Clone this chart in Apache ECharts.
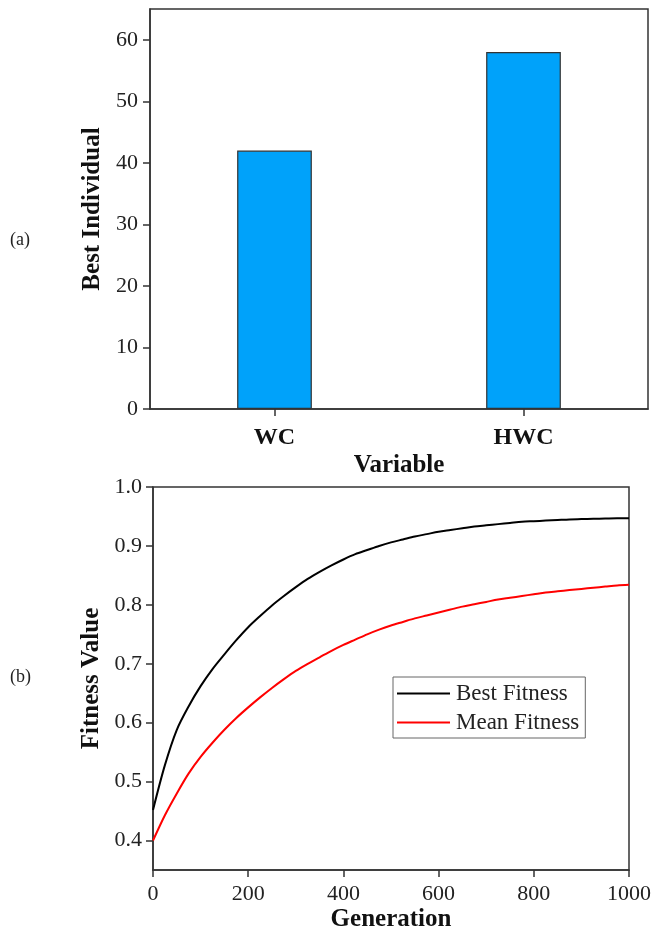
<!DOCTYPE html>
<html>
<head>
<meta charset="utf-8">
<script src="https://cdn.jsdelivr.net/npm/echarts@6/dist/echarts.min.js"></script>
<style>
  html, body { margin: 0; padding: 0; background: #fff; }
  #chart { width: 661px; height: 933px; }
</style>
</head>
<body>
<div id="chart"></div>
<script>
// bar panel (a)
const variables = ['WC', 'HWC']
const bestIndividual = [42, 58]

// line panel (b), values read every 25 generations
const generations = [0, 25, 50, 75, 100, 125, 150, 175, 200, 225, 250, 275, 300, 325, 350, 375, 400,
  425, 450, 475, 500, 525, 550, 575, 600, 625, 650, 675, 700, 725, 750, 775, 800, 825, 850, 875, 900,
  925, 950, 975, 1000]
const bestFitness = [0.452, 0.528, 0.588, 0.628, 0.662, 0.691, 0.716, 0.740, 0.762, 0.781, 0.799, 0.815, 0.830,
  0.844, 0.856, 0.867, 0.877, 0.886, 0.893, 0.900, 0.906, 0.911, 0.916, 0.920, 0.924, 0.927, 0.930, 0.933,
  0.935, 0.937, 0.939, 0.941, 0.942, 0.943, 0.944, 0.945, 0.9455, 0.946, 0.9465, 0.947, 0.947]
const meanFitness = [0.400, 0.443, 0.480, 0.514, 0.542, 0.566, 0.588, 0.608, 0.626, 0.643, 0.659, 0.674, 0.688,
  0.700, 0.711, 0.722, 0.732, 0.741, 0.750, 0.758, 0.765, 0.771, 0.777, 0.782, 0.787, 0.792, 0.797, 0.801,
  0.805, 0.809, 0.812, 0.815, 0.818, 0.821, 0.823, 0.825, 0.827, 0.829, 0.831, 0.833, 0.834]
const fitnessTicks = [0.4, 0.5, 0.6, 0.7, 0.8, 0.9, 1.0]

const font = 'Liberation Serif'
const axisColor = '#333'

const chart = echarts.init(document.getElementById('chart'))

const axisLine = { lineStyle: { color: axisColor, width: 1.5 } }
const tickStyle = { color: axisColor, width: 1.5 }
const tickLabel = { color: '#222', fontFamily: font, fontSize: 22 }
const nameStyle = { color: '#111', fontFamily: font, fontSize: 25, fontWeight: 'bold' }

chart.setOption({
  animation: false,
  backgroundColor: '#fff',
  grid: [
    { left: 150, top: 9, right: 13, height: 400, show: true, borderColor: axisColor, borderWidth: 1.5 },
    { left: 153, top: 487, right: 32, bottom: 62, show: true, borderColor: axisColor, borderWidth: 1.5 }
  ],
  legend: {
    data: ['Best Fitness', 'Mean Fitness'],
    orient: 'vertical',
    left: 393,
    top: 677,
    icon: 'rect',
    itemWidth: 53,
    itemHeight: 2,
    itemGap: 6,
    padding: [5, 6, 4, 4],
    borderColor: '#666',
    borderWidth: 1,
    textStyle: { fontFamily: font, fontSize: 23, color: '#222', padding: [0, 0, 0, 1] }
  },
  xAxis: [
    {
      gridIndex: 0,
      type: 'category',
      data: variables,
      name: 'Variable',
      nameLocation: 'middle',
      nameGap: 44,
      nameTextStyle: nameStyle,
      axisLine: axisLine,
      axisTick: { show: true, alignWithLabel: true, length: 7, lineStyle: tickStyle },
      axisLabel: { color: '#111', fontFamily: font, fontSize: 24, fontWeight: 'bold', margin: 17 },
      splitLine: { show: false }
    },
    {
      gridIndex: 1,
      type: 'value',
      min: 0,
      max: 1000,
      interval: 200,
      name: 'Generation',
      nameLocation: 'middle',
      nameGap: 37,
      nameTextStyle: nameStyle,
      axisLine: axisLine,
      axisTick: { length: 7, lineStyle: tickStyle },
      axisLabel: Object.assign({ margin: 13, formatter: v => String(v) }, tickLabel),
      splitLine: { show: false }
    }
  ],
  yAxis: [
    {
      gridIndex: 0,
      type: 'value',
      min: 0,
      max: 65,
      interval: 10,
      name: 'Best Individual',
      nameLocation: 'middle',
      nameGap: 45,
      nameTextStyle: nameStyle,
      axisLine: { show: true, lineStyle: tickStyle },
      axisTick: { show: true, length: 7, lineStyle: tickStyle },
      axisLabel: Object.assign({ margin: 12, showMaxLabel: false }, tickLabel),
      splitLine: { show: false }
    },
    {
      gridIndex: 1,
      type: 'value',
      min: 0.35,
      max: 1.0,
      name: 'Fitness Value',
      nameLocation: 'middle',
      nameGap: 47,
      nameTextStyle: nameStyle,
      axisLine: { show: true, lineStyle: tickStyle },
      axisTick: { show: true, length: 7, customValues: fitnessTicks, lineStyle: tickStyle },
      axisLabel: Object.assign({ margin: 11, customValues: fitnessTicks, formatter: v => v.toFixed(1) }, tickLabel),
      splitLine: { show: false }
    }
  ],
  graphic: [
    { type: 'text', left: 10, top: 231, style: { text: '(a)', fontFamily: font, fontSize: 18, fill: '#222' } },
    { type: 'text', left: 10, top: 668, style: { text: '(b)', fontFamily: font, fontSize: 18, fill: '#222' } }
  ],
  series: [
    {
      type: 'bar',
      xAxisIndex: 0,
      yAxisIndex: 0,
      barWidth: '30%',
      data: bestIndividual,
      itemStyle: { color: '#00A2FA', borderColor: '#333', borderWidth: 1.2 }
    },
    {
      name: 'Best Fitness',
      type: 'line',
      xAxisIndex: 1,
      yAxisIndex: 1,
      smooth: 0.3,
      showSymbol: false,
      data: generations.map((g, i) => [g, bestFitness[i]]),
      itemStyle: { color: '#000' },
      lineStyle: { color: '#000', width: 2 }
    },
    {
      name: 'Mean Fitness',
      type: 'line',
      xAxisIndex: 1,
      yAxisIndex: 1,
      smooth: 0.3,
      showSymbol: false,
      data: generations.map((g, i) => [g, meanFitness[i]]),
      itemStyle: { color: '#f00' },
      lineStyle: { color: '#f00', width: 2 }
    }
  ]
})
</script>
</body>
</html>
